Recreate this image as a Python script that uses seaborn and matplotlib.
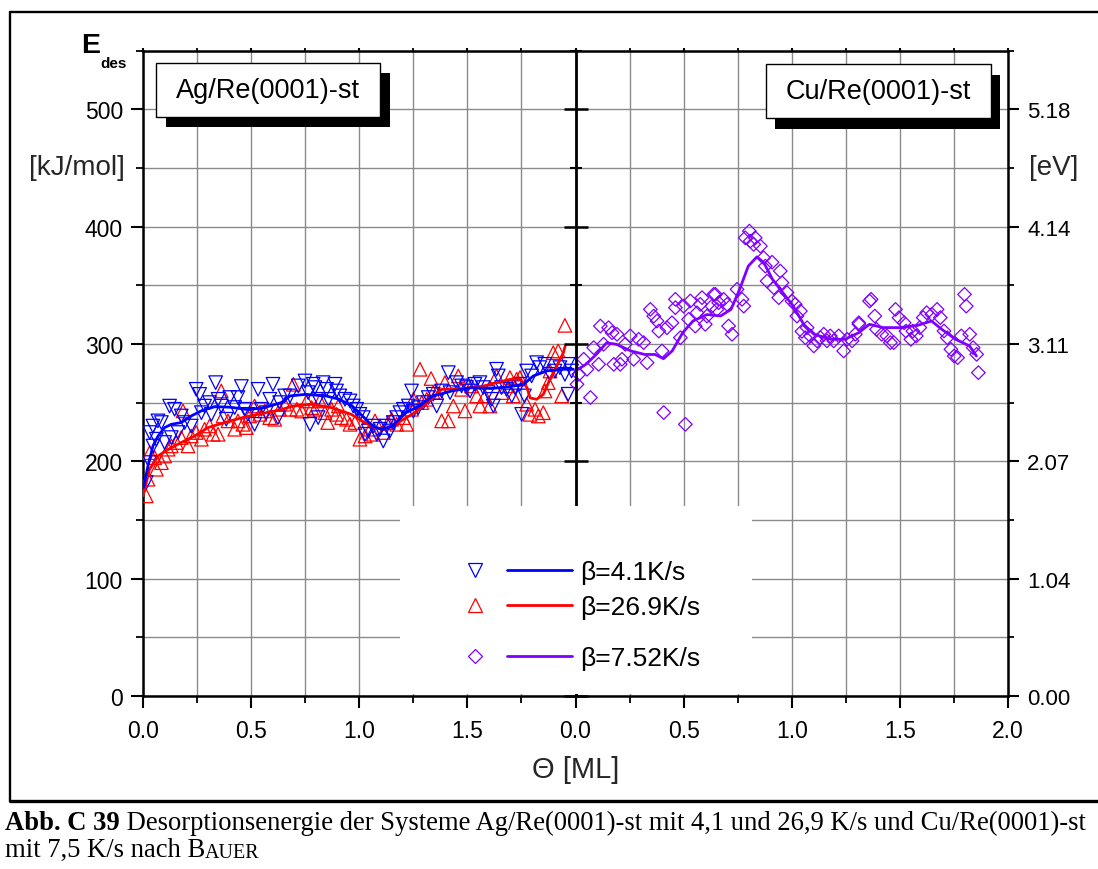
import numpy as np
import pandas as pd
import matplotlib
matplotlib.use("Agg")
import matplotlib.pyplot as plt
import seaborn as sns
from matplotlib.patches import Rectangle
from matplotlib.lines import Line2D
from matplotlib.legend_handler import HandlerTuple
from matplotlib.ticker import MultipleLocator, FixedLocator

# ---------------- data ----------------
# Ag/Re(0001)-st, beta = 4.1 K/s (scatter)
ag41_theta = [0.015, 0.031, 0.046, 0.031, 0.046, 0.069, 0.085, 0.062, 0.100, 0.123, 0.146, 0.131,
              0.162, 0.177, 0.193, 0.223, 0.246, 0.262, 0.270, 0.285, 0.308, 0.316, 0.336, 0.347,
              0.362, 0.385, 0.401, 0.424, 0.439, 0.455, 0.470, 0.485, 0.516, 0.532, 0.547, 0.570,
              0.586, 0.601, 0.624, 0.632, 0.655, 0.680, 0.718, 0.749, 0.764, 0.787, 0.795, 0.810,
              0.833, 0.849, 0.857, 0.888, 0.895, 0.910, 0.772, 0.810, 0.934, 0.957, 0.972, 0.988,
              1.003, 1.019, 1.027, 1.042, 1.065, 1.081, 1.096, 1.111, 1.127, 1.142, 1.157, 1.173,
              1.188, 1.204, 1.227, 1.242, 1.250, 1.273, 1.296, 1.319, 1.342, 1.358, 1.381, 1.412,
              1.420, 1.450, 1.473, 1.496, 1.512, 1.535, 1.558, 1.573, 1.596, 1.612, 1.620, 1.635,
              1.643, 1.658, 1.681, 1.705, 1.720, 1.743, 1.751, 1.764, 1.774, 1.797, 1.820, 1.835,
              1.858, 1.882, 1.905, 1.928, 1.951, 1.966, 1.966, 1.982]
ag41_E = [181.9, 198.9, 213.0, 224.5, 230.0, 234.4, 233.0, 218.8, 216.0, 247.0, 244.3, 220.2,
          224.5, 238.6, 233.0, 230.0, 261.3, 257.0, 241.4, 247.0, 250.0, 240.0, 267.0, 252.8,
          247.0, 235.8, 254.3, 245.8, 254.3, 263.7, 244.3, 240.0, 231.5, 261.3, 244.3, 241.4,
          252.8, 265.6, 237.2, 250.0, 255.7, 255.7, 264.2, 268.4, 258.5, 265.6, 262.8, 252.8,
          267.0, 261.3, 252.8, 265.6, 259.9, 255.7, 231.5, 237.2, 252.8, 251.4, 247.1, 244.3,
          240.0, 237.2, 223.0, 225.8, 230.0, 223.0, 227.3, 217.3, 230.0, 225.8, 233.0, 237.2,
          241.4, 244.3, 247.1, 259.9, 242.8, 245.7, 250.0, 254.3, 257.1, 247.1, 259.9, 275.5,
          258.5, 267.0, 264.2, 262.8, 259.9, 265.6, 267.0, 262.8, 258.5, 252.8, 247.1, 278.4,
          272.7, 262.8, 261.3, 255.7, 262.8, 265.6, 240.0, 255.7, 276.9, 272.7, 284.0, 279.8,
          282.6, 274.1, 276.9, 279.8, 274.1, 282.6, 257.1, 276.9]

# Ag/Re(0001)-st, beta = 26.9 K/s (scatter)
ag269_theta = [0.015, 0.023, 0.062, 0.031, 0.054, 0.085, 0.100, 0.116, 0.131, 0.154, 0.177, 0.185,
               0.208, 0.223, 0.246, 0.270, 0.285, 0.308, 0.324, 0.347, 0.362, 0.370, 0.393, 0.424,
               0.439, 0.462, 0.478, 0.493, 0.516, 0.540, 0.563, 0.586, 0.609, 0.632, 0.655, 0.695,
               0.680, 0.711, 0.734, 0.757, 0.780, 0.795, 0.818, 0.841, 0.854, 0.872, 0.895, 0.903,
               0.918, 0.941, 0.957, 0.980, 1.003, 1.027, 1.050, 1.065, 1.073, 1.111, 1.134, 1.150,
               1.173, 1.204, 1.219, 1.242, 1.250, 1.281, 1.289, 1.312, 1.332, 1.342, 1.358, 1.381,
               1.396, 1.412, 1.435, 1.458, 1.473, 1.489, 1.519, 1.543, 1.558, 1.581, 1.604, 1.635,
               1.658, 1.681, 1.697, 1.712, 1.728, 1.743, 1.774, 1.789, 1.813, 1.828, 1.851, 1.859,
               1.874, 1.882, 1.897, 1.920, 1.936, 1.951]
ag269_E = [170.5, 184.7, 193.2, 207.4, 203.1, 198.8, 204.5, 210.3, 213.1, 216.0, 220.2, 242.9,
           213.1, 221.6, 224.5, 218.8, 227.3, 230.1, 223.0, 223.0, 259.9, 238.6, 234.4, 227.3,
           234.4, 231.5, 228.7, 238.6, 247.1, 240.0, 242.9, 237.2, 235.8, 244.3, 248.6, 265.6,
           244.3, 244.3, 242.8, 251.4, 245.7, 244.3, 251.4, 241.4, 233.0, 244.3, 240.0, 247.1,
           237.2, 235.8, 231.5, 233.0, 218.8, 221.6, 227.3, 223.0, 234.4, 224.5, 233.0, 235.8,
           231.5, 237.2, 231.5, 244.3, 252.8, 278.4, 250.0, 252.8, 270.5, 258.5, 258.5, 234.4,
           267.0, 234.4, 247.1, 272.7, 261.3, 242.9, 264.2, 255.7, 247.1, 255.7, 247.1, 272.7,
           258.5, 264.2, 271.3, 255.7, 269.9, 271.3, 248.6, 240.0, 244.3, 238.6, 241.4, 259.9,
           267.0, 276.9, 292.5, 294.0, 255.7, 315.8]

# Cu/Re(0001)-st, beta = 7.52 K/s (scatter)
cu752_theta = [0.007, 0.015, 0.038, 0.053, 0.069, 0.084, 0.107, 0.115, 0.130, 0.153, 0.169, 0.177,
               0.192, 0.207, 0.215, 0.230, 0.253, 0.269, 0.292, 0.315, 0.331, 0.346, 0.362, 0.377,
               0.385, 0.400, 0.408, 0.423, 0.446, 0.462, 0.462, 0.485, 0.500, 0.508, 0.523, 0.531,
               0.554, 0.562, 0.577, 0.585, 0.600, 0.608, 0.631, 0.639, 0.647, 0.654, 0.662, 0.685,
               0.701, 0.708, 0.724, 0.747, 0.770, 0.778, 0.785, 0.804, 0.808, 0.824, 0.831, 0.855,
               0.870, 0.878, 0.886, 0.909, 0.917, 0.940, 0.947, 0.955, 0.978, 1.001, 1.016, 1.024,
               1.040, 1.047, 1.063, 1.071, 1.086, 1.102, 1.117, 1.132, 1.148, 1.163, 1.178, 1.194,
               1.217, 1.240, 1.256, 1.279, 1.294, 1.310, 1.311, 1.360, 1.367, 1.384, 1.392, 1.416,
               1.440, 1.456, 1.472, 1.480, 1.496, 1.520, 1.528, 1.551, 1.560, 1.576, 1.592, 1.608,
               1.624, 1.648, 1.672, 1.687, 1.704, 1.719, 1.736, 1.751, 1.767, 1.784, 1.799, 1.807,
               1.823, 1.839, 1.855, 1.863]
cu752_E = [265.6, 274.1, 286.9, 278.4, 254.3, 296.8, 282.6, 315.2, 299.7, 313.8, 309.5, 282.6,
           308.2, 282.6, 286.9, 299.7, 306.8, 286.9, 303.9, 301.1, 284.0, 329.4, 323.7, 319.5,
           311.0, 294.0, 241.5, 313.8, 318.0, 338.0, 330.9, 305.3, 332.2, 231.5, 320.9, 336.6,
           315.2, 326.5, 333.7, 339.4, 316.7, 323.7, 332.2, 342.2, 342.2, 329.4, 335.1, 338.0,
           333.7, 315.2, 308.2, 346.5, 338.0, 332.2, 390.4, 396.1, 387.6, 384.8, 390.4, 383.3,
           373.4, 366.3, 353.5, 369.6, 347.9, 339.4, 362.1, 352.2, 343.7, 336.5, 333.7, 323.7,
           328.0, 310.7, 305.3, 313.8, 306.8, 298.3, 302.6, 305.3, 308.2, 302.6, 306.8, 302.6,
           306.8, 294.0, 303.9, 302.6, 308.2, 318.0, 316.7, 336.5, 338.0, 323.7, 312.4, 308.2,
           306.8, 301.1, 301.1, 329.4, 322.3, 318.0, 310.9, 303.9, 310.9, 306.8, 313.9, 322.4,
           326.6, 325.2, 329.4, 322.4, 311.0, 305.3, 295.4, 289.7, 288.3, 306.8, 342.2, 332.2,
           308.2, 296.8, 291.1, 275.5]

# smoothed curves
fit41_theta = [0.003, 0.023, 0.046, 0.070, 0.100, 0.131, 0.177, 0.223, 0.270, 0.332, 0.407, 0.485,
               0.563, 0.640, 0.680, 0.752, 0.845, 0.905, 0.968, 1.015, 1.061, 1.107, 1.154, 1.216,
               1.278, 1.340, 1.370, 1.430, 1.520, 1.610, 1.700, 1.760, 1.805, 1.868, 1.945, 1.990]
fit41_E = [178.0, 196.0, 213.0, 221.6, 228.7, 231.5, 233.0, 238.6, 243.0, 246.6, 246.0, 244.0,
           245.8, 250.0, 255.7, 257.0, 255.7, 253.0, 247.0, 238.6, 230.0, 227.0, 230.0, 241.5,
           247.0, 255.7, 257.0, 260.0, 262.7, 262.0, 263.7, 265.6, 272.7, 277.0, 278.4, 278.4]

fit269_theta = [0.000, 0.030, 0.070, 0.116, 0.177, 0.239, 0.301, 0.378, 0.455, 0.532, 0.640, 0.690,
                0.780, 0.870, 0.963, 1.025, 1.071, 1.118, 1.180, 1.257, 1.335, 1.380, 1.475, 1.565,
                1.700, 1.745, 1.776, 1.790, 1.820, 1.851, 1.882, 1.913, 1.944, 1.952]
fit269_E = [170.5, 193.0, 204.6, 210.0, 216.0, 221.6, 228.7, 233.0, 237.0, 240.0, 244.0, 247.0,
            248.6, 245.8, 240.0, 233.0, 228.7, 227.0, 233.0, 241.5, 253.0, 261.3, 262.0, 263.7,
            269.9, 270.0, 262.7, 254.0, 252.8, 257.0, 269.9, 281.0, 292.6, 298.0]

fit752_theta = [0.000, 0.048, 0.096, 0.144, 0.190, 0.256, 0.320, 0.368, 0.407, 0.447, 0.496, 0.543,
                0.608, 0.671, 0.719, 0.759, 0.799, 0.839, 0.871, 0.911, 0.959, 1.007, 1.055, 1.103,
                1.182, 1.246, 1.310, 1.359, 1.422, 1.502, 1.582, 1.646, 1.694, 1.758, 1.822, 1.854]
fit752_E = [277.0, 282.6, 291.0, 301.0, 299.6, 294.0, 291.0, 291.0, 287.4, 294.0, 309.6, 319.5,
            325.0, 323.8, 329.4, 346.5, 366.3, 374.2, 369.2, 355.0, 343.6, 332.2, 316.7, 308.2,
            303.9, 303.9, 309.6, 316.7, 313.9, 313.9, 315.8, 319.5, 312.4, 303.9, 298.3, 289.7]

x_tick_values = [0.0, 0.5, 1.0, 1.5, 2.0, 2.5, 3.0, 3.5, 4.0]
x_tick_labels = ['0.0', '0.5', '1.0', '1.5', '0.0', '0.5', '1.0', '1.5', '2.0']
y_tick_values = [0, 100, 200, 300, 400, 500]
ev_labels = ['0.00', '1.04', '2.07', '3.11', '4.14', '5.18']
right_panel_offset = 2.0

labels = ['β=4.1K/s', 'β=26.9K/s', 'β=7.52K/s']
col_blue, col_red, col_purple = '#0000ff', '#ff0000', '#8000ff'

# ---------------- figure ----------------
sns.set_style("ticks", rc={"axes.edgecolor": "black", "text.color": "black",
                            "xtick.color": "black", "ytick.color": "black"})
plt.rcParams['font.family'] = ['Liberation Sans', 'DejaVu Sans']

W, H = 1098, 870
def fx(px):
    return px / W
def fy(py):
    return 1 - py / H

fig = plt.figure(figsize=(W / 100, H / 100), dpi=100)
fig.patch.set_facecolor('white')
ax = fig.add_axes([fx(143), fy(697), (1008 - 143) / W, (697 - 51.5) / H])

ax.set_xlim(0, 4)
ax.set_ylim(0, 550)

grid_col = '#8a8a8a'
ax.set_axisbelow(True)
ax.xaxis.set_major_locator(FixedLocator(x_tick_values))
ax.xaxis.set_minor_locator(MultipleLocator(0.25))
ax.set_xticklabels(x_tick_labels)
ax.yaxis.set_major_locator(FixedLocator(y_tick_values))
ax.yaxis.set_minor_locator(MultipleLocator(50))
ax.grid(True, which='both', color=grid_col, lw=1.0)

# scatter data
sns.scatterplot(x=ag269_theta, y=ag269_E, marker='^', s=95, facecolors='none',
                edgecolor=col_red, linewidth=0.9, ax=ax, zorder=3)
sns.scatterplot(x=ag41_theta, y=ag41_E, marker='v', s=95, facecolors='none',
                edgecolor=col_blue, linewidth=0.9, ax=ax, zorder=3)
cu_x = [t + right_panel_offset for t in cu752_theta]
sns.scatterplot(x=cu_x, y=cu752_E, marker='D', s=48, facecolors='none',
                edgecolor=col_purple, linewidth=0.9, ax=ax, zorder=3)

# smooth curves
sns.lineplot(x=fit269_theta, y=fit269_E, sort=False, estimator=None, color=col_red, lw=2.0, ax=ax, zorder=4)
sns.lineplot(x=fit41_theta, y=fit41_E, sort=False, estimator=None, color=col_blue, lw=2.0, ax=ax, zorder=4)
sns.lineplot(x=[t + right_panel_offset for t in fit752_theta], y=fit752_E, sort=False,
             estimator=None, color=col_purple, lw=2.0, ax=ax, zorder=4)

# spines & ticks
for sp in ['left', 'bottom', 'top']:
    ax.spines[sp].set_linewidth(1.8)
    ax.spines[sp].set_color('black')
ax.spines['right'].set_visible(False)
ax.tick_params(axis='both', which='major', direction='out', length=8.6, width=1.5,
               labelsize=16.5, color='black')
ax.tick_params(axis='both', which='minor', direction='out', length=5, width=1.3, color='black')
ax.tick_params(axis='y', which='major', pad=5.8)
ax.tick_params(axis='x', which='major', pad=8)
ax.tick_params(axis='x', which='both', top=True)
ax.tick_params(axis='x', which='both', labeltop=False)
for t in ax.xaxis.get_major_ticks() + ax.xaxis.get_minor_ticks():
    t.tick2line.set_markersize(2.5)

ax.set_xlabel('Θ [ML]', fontsize=21, va='center')
ax.xaxis.set_label_coords(0.5, (697 - 770) / 645.5)
ax.set_ylabel('[kJ/mol]', fontsize=20, rotation=0, ha='center', va='center')
ax.yaxis.set_label_coords((77 - 143) / 865, (697 - 168) / 645.5)

# right axis in eV
ax2 = ax.twinx()
ax2.set_ylim(ax.get_ylim())
ax2.yaxis.set_major_locator(FixedLocator(y_tick_values))
ax2.set_yticklabels(ev_labels)
ax2.yaxis.set_minor_locator(MultipleLocator(50))
for sp in ['left', 'top', 'bottom']:
    ax2.spines[sp].set_visible(False)
ax2.spines['right'].set_linewidth(1.8)
ax2.spines['right'].set_color('black')
ax2.tick_params(axis='y', which='major', direction='out', length=8, width=1.5, labelsize=16,
                pad=5.8, color='black')
ax2.tick_params(axis='y', which='minor', direction='out', length=4.3, width=1.3, color='black')
ax2.set_ylabel('[eV]', fontsize=20, rotation=0, ha='center', va='center')
ax2.yaxis.set_label_coords((1054 - 143) / 865, (697 - 168) / 645.5)
ax2.grid(False)

# middle axis separating the two panels
ax3 = ax.twinx()
ax3.set_ylim(ax.get_ylim())
ax3.yaxis.set_major_locator(FixedLocator(y_tick_values))
ax3.yaxis.set_minor_locator(MultipleLocator(50))
for sp in ['left', 'top', 'bottom']:
    ax3.spines[sp].set_visible(False)
ax3.spines['right'].set_position(('axes', 0.5))
ax3.spines['right'].set_linewidth(2.0)
ax3.spines['right'].set_color('black')
ax3.tick_params(axis='y', which='major', direction='inout', length=17, width=1.8,
                labelright=False, color='black')
ax3.tick_params(axis='y', which='minor', direction='inout', length=8, width=1.5, color='black')
ax3.grid(False)

# E_des label
fig.text(fx(91), fy(46), 'E', fontsize=20.5, fontweight='bold', ha='center', va='center')
fig.text(fx(100), fy(64), 'des', fontsize=11, fontweight='bold', ha='left', va='center')

# panel title boxes with shadow
def shadow_box(x0, y0, x1, y1, dx, dy, text):
    fig.add_artist(Rectangle((fx(x0 + dx), fy(y1 + dy)), (x1 - x0) / W, (y1 - y0) / H,
                             transform=fig.transFigure, facecolor='black', edgecolor='black',
                             lw=0, zorder=2))
    fig.add_artist(Rectangle((fx(x0), fy(y1)), (x1 - x0) / W, (y1 - y0) / H,
                             transform=fig.transFigure, facecolor='white', edgecolor='black',
                             lw=1.0, zorder=2.1))
    fig.text(fx((x0 + x1) / 2), fy((y0 + y1) / 2), text, fontsize=19.5, ha='center',
             va='center', zorder=2.2)

shadow_box(156, 64, 380, 118, 10, 10, 'Ag/Re(0001)-st')
shadow_box(766, 65, 991, 119, 9, 11, 'Cu/Re(0001)-st')

# legend background
fig.add_artist(Rectangle((fx(400), fy(695)), (752 - 400) / W, (695 - 507) / H,
                         transform=fig.transFigure, facecolor='white', edgecolor='none',
                         lw=0, zorder=2))

def mk(marker, color, ms):
    return Line2D([], [], linestyle='none', marker=marker, markersize=ms,
                  markerfacecolor='none', markeredgecolor=color, markeredgewidth=0.9)

def ln(color):
    return Line2D([], [], color=color, lw=2.0)

fs_leg = 19
fs_px = fs_leg * 100 / 72
leg_kw = dict(handler_map={tuple: HandlerTuple(ndivide=None, pad=0)}, frameon=False,
              fontsize=fs_leg, handlelength=130 / fs_px, handletextpad=8 / fs_px,
              borderpad=0, borderaxespad=0, loc='center left')
leg1 = fig.legend([(mk('v', col_blue, 9.5), ln(col_blue)), (mk('^', col_red, 9.5), ln(col_red))],
                  labels[:2], bbox_to_anchor=(fx(442), fy(590.5)), labelspacing=0.40, **leg_kw)
leg1.set_zorder(3)
leg2 = fig.legend([(mk('D', col_purple, 7.0), ln(col_purple))], labels[2:],
                  bbox_to_anchor=(fx(442), fy(659)), **leg_kw)
leg2.set_zorder(3)

# outer frame lines
fig.add_artist(Line2D([fx(10), 1.0], [fy(13), fy(13)], transform=fig.transFigure, color='black', lw=1.7))
fig.add_artist(Line2D([fx(10), fx(10)], [fy(13), fy(802)], transform=fig.transFigure, color='black', lw=1.7))
fig.add_artist(Line2D([fx(10), 1.0], [fy(802), fy(802)], transform=fig.transFigure, color='black', lw=2.4))

# caption
cap_font = ['Liberation Serif', 'DejaVu Serif']
cap_fs = 19.2
t1 = fig.text(fx(5), fy(830), 'Abb. C 39', fontsize=cap_fs, fontweight='bold', family=cap_font,
              ha='left', va='baseline')
fig.canvas.draw()
ax.annotate(' Desorptionsenergie der Systeme Ag/Re(0001)-st mit 4,1 und 26,9 K/s und Cu/Re(0001)-st',
            xy=(1, 0), xycoords=t1, va='bottom', ha='left', fontsize=cap_fs, family=cap_font,
            annotation_clip=False)
t2 = fig.text(fx(5), fy(857), 'mit 7,5 K/s nach B', fontsize=cap_fs, family=cap_font,
              ha='left', va='baseline')
ax.annotate('AUER', xy=(1, 0), xycoords=t2, va='bottom', ha='left', fontsize=cap_fs * 0.75,
            family=cap_font, annotation_clip=False)

fig.savefig('out.png', dpi=100, facecolor='white')
